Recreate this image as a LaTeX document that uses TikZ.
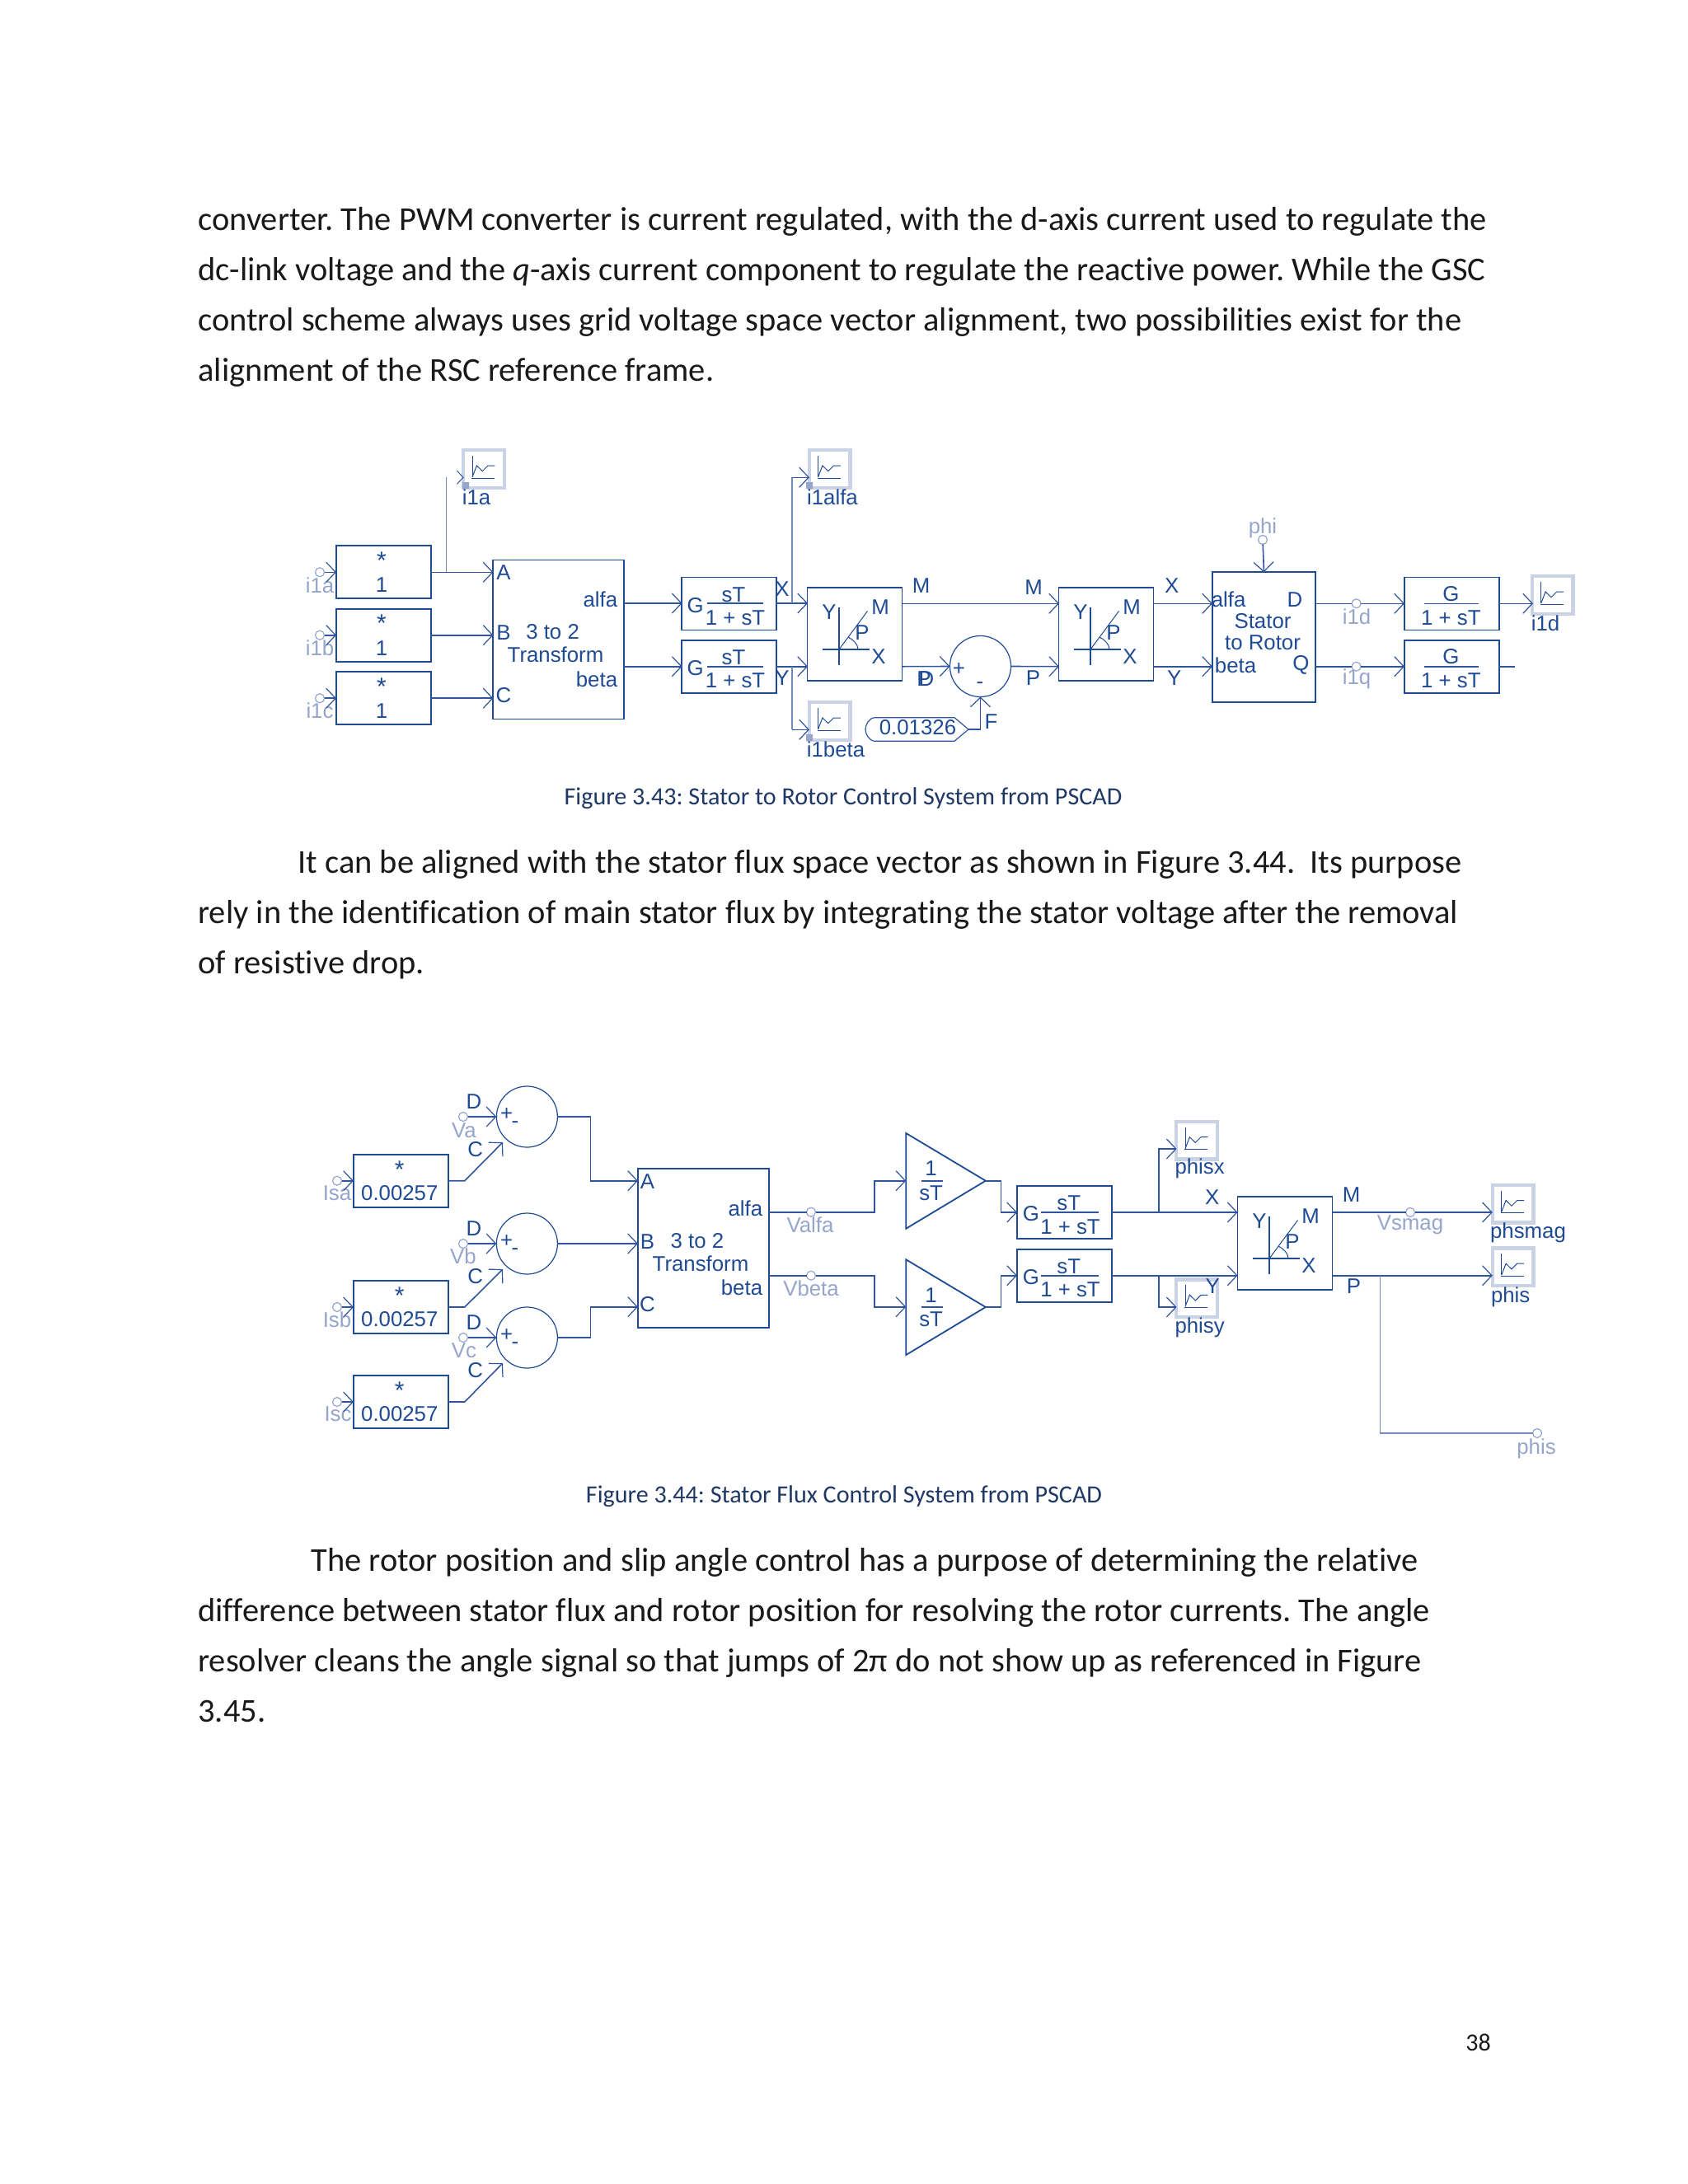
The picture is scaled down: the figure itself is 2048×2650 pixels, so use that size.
\documentclass[tikz,border=0pt]{standalone}
\usepackage{fontspec}
\setmainfont{Liberation Sans}
\newfontfamily\bodyfont[Ligatures=NoCommon]{Carlito}
\usepackage{tikz}
\usetikzlibrary{arrows.meta,positioning,calc}
\definecolor{pscadblue}{HTML}{1F4A94}
\definecolor{pscadline}{HTML}{2F559E}
\definecolor{pscadfaint}{HTML}{95A5CB}
\definecolor{pscadframe}{HTML}{CAD2E6}
\definecolor{captionblue}{HTML}{1F3864}

\tikzset{
  box/.style={draw=pscadblue, line width=0.9pt, inner sep=0pt, outer sep=0pt},
  gainbox/.style={box, minimum width=57.5pt, minimum height=32pt},
  polar/.style={box, minimum width=57.5pt, minimum height=56.5pt},
  xform/.style={box, minimum width=79.5pt, minimum height=96.5pt},
  statorbox/.style={box, minimum width=62.5pt, minimum height=78.7pt},
  sumnode/.style={circle, draw=pscadblue, line width=0.6pt, minimum size=37pt, inner sep=0pt, outer sep=0pt},
  inport/.style={circle, draw=pscadfaint, line width=0.6pt, minimum size=5.5pt, inner sep=0pt, outer sep=0pt},
  meter/.style={draw=pscadframe, line width=2.2pt, minimum width=24.8pt, minimum height=22.8pt, inner sep=0pt, outer sep=0pt},
  lbl/.style={text=pscadblue, font=\fontsize{12.9}{14}\selectfont, inner sep=0pt},
  starlbl/.style={lbl, font=\fontsize{15}{16}\selectfont, yshift=-1.5pt},
  faint/.style={lbl, text=pscadfaint},
  arrow/.style={-{Straight Barb[length=5.7pt,width=12pt,line width=0.6pt]}, pscadline, line width=0.8pt},
  wire/.style={pscadline, line width=0.8pt},
  thinwire/.style={pscadfaint!70!pscadblue, line width=0.6pt},
  trace/.style={pscadblue, line width=0.5pt},
  bodyline/.style={anchor=base west, inner sep=0pt, text=black!90, font=\frenchspacing\bodyfont\fontsize{20.23}{24}\selectfont},
  figcaption/.style={inner sep=0pt, text=captionblue, font=\frenchspacing\bodyfont\fontsize{15.05}{18}\selectfont},
}

% scope node with its little trace
\newcommand{\meterbox}[2]{
  \node[meter] (#1) at (#2) {};
  \begin{scope}[shift={(#1)}]
    \draw[trace] (-14,-16) -- (-14,10) (-15,11) -- (13,11);
    \draw[trace] (-14,10) -- (-8.6,-4) -- (-1.7,2.7) -- (5,-4) -- (13.4,-4);
  \end{scope}
}
% XY to polar block
\newcommand{\polarbox}[2]{
  \node[polar] (#1) at (#2) {};
  \begin{scope}[shift={(#1)}]
    \draw[trace, line width=0.8pt] (-19,-33) -- (-19,37) (-39,18.5) -- (18,18.5);
    \draw[trace] (-19,18.5) -- (15.5,-28);
    \draw[trace] (4,18.5) .. controls (4,12) and (-2,6.5) .. (-8,3.5);
    \node[lbl] (#1y) at (-31,-27) {Y};
    \node[lbl] (#1m) at (31,-33) {M};
    \node[lbl] (#1p) at (9,-1.5) {P};
    \node[lbl] (#1x) at (29,27) {X};
  \end{scope}
}

\begin{document}
\begin{tikzpicture}[x=0.5pt, y=-0.5pt]
  \useasboundingbox (0,0) rectangle (2048,2650);

  % Page text
  \node[bodyline] (parAa) at (240,279) {converter. The PWM converter is current regulated, with the d-axis current used to regulate the};
  \node[bodyline] (parAb) at (240,340) {dc-link voltage and the \textit{q}-axis current component to regulate the reactive power. While the GSC};
  \node[bodyline] (parAc) at (240,401) {control scheme always uses grid voltage space vector alignment, two possibilities exist for the};
  \node[bodyline] (parAd) at (240,462) {alignment of the RSC reference frame.};
  \node[figcaption] (capA) at (1023,969) {Figure 3.43: Stator to Rotor Control System from PSCAD};
  \node[bodyline] (parBa) at (361,1059) {It can be aligned with the stator flux space vector as shown in Figure 3.44.\ \ Its purpose};
  \node[bodyline] (parBb) at (240,1120) {rely in the identification of main stator flux by integrating the stator voltage after the removal};
  \node[bodyline] (parBc) at (240,1181) {of resistive drop.};
  \node[figcaption] (capB) at (1024,1816) {Figure 3.44: Stator Flux Control System from PSCAD};
  \node[bodyline] (parCa) at (377,1906) {The rotor position and slip angle control has a purpose of determining the relative};
  \node[bodyline] (parCb) at (240,1967) {difference between stator flux and rotor position for resolving the rotor currents. The angle};
  \node[bodyline] (parCc) at (240,2028) {resolver cleans the angle signal so that jumps of 2π do not show up as referenced in Figure};
  \node[bodyline] (parCd) at (240,2089) {3.45.};
  \node[bodyline, font=\bodyfont\fontsize{15}{18}\selectfont] (pageno) at (1778,2488) {38};

  % Figure 3.43, input gains
  \node[gainbox] (gaina) at (465.5,694.3) {};
  \node[gainbox] (gainb) at (465.5,770.7) {};
  \node[gainbox] (gainc) at (465.5,847.2) {};
  \node[starlbl] (staraa) at (463,677) {*};
  \node[starlbl] (starbb) at (463,753.5) {*};
  \node[starlbl] (starcc) at (463,830) {*};
  \node[lbl] (onea) at (463,710) {1};
  \node[lbl] (oneb) at (463,786.5) {1};
  \node[lbl] (onec) at (463,863) {1};
  \node[inport] (ina) at (388,694.3) {};
  \node[inport] (inb) at (388,770.7) {};
  \node[inport] (inc) at (388,847.2) {};
  \node[faint] (ina-l) at (388,710) {i1a};
  \node[faint] (inb-l) at (388,786) {i1b};
  \node[faint] (inc-l) at (388,862) {i1c};

  % Figure 3.43, 3 to 2 block
  \node[xform] (trfA) at (677.7,776) {};
  \coordinate (trfA-a) at (598.5,694.3);
  \coordinate (trfA-b) at (598.5,770.7);
  \coordinate (trfA-c) at (598.5,847.2);
  \coordinate (trfA-o1) at (757,732);
  \coordinate (trfA-o2) at (757,808.7);
  \node[lbl] (trfA-tA) at (611,695) {A};
  \node[lbl] (trfA-tB) at (611,768) {B};
  \node[lbl] (trfA-tC) at (611,844) {C};
  \node[lbl] (trfA-t1) at (670.6,767) {3 to 2};
  \node[lbl] (trfA-t2) at (674,794) {Transform};
  \node[lbl, anchor=east] (trfA-t3) at (749.5,727.7) {alfa};
  \node[lbl, anchor=east] (trfA-t4) at (749.5,824) {beta};

  % Figure 3.43, filters
  \node[gainbox] (lagx) at (884.8,732.5) {};
  \node[gainbox] (lagy) at (884.8,808.9) {};
  \coordinate (lagx-in) at (827.6,732);
  \coordinate (lagy-in) at (827.6,808.7);
  \coordinate (lagx-out) at (942,732);
  \coordinate (lagy-out) at (942,808.7);
  \node[lbl] (lagx-g) at (843.7,735) {G};
  \node[lbl] (lagy-g) at (843.7,811) {G};
  \node[lbl] (lagx-n) at (890,721.7) {sT};
  \node[lbl] (lagy-n) at (890,797.7) {sT};
  \node[lbl] (lagx-d) at (892,749.3) {1 + sT};
  \node[lbl] (lagy-d) at (892,825.7) {1 + sT};
  \draw[wire] (857.5,732) -- (926,732) (857.5,808.7) -- (926,808.7);
  \node[lbl] (lagx-l) at (949,714.3) {X};
  \node[lbl] (lagy-l) at (949,822.7) {Y};

  % Figure 3.43, polar blocks and summer
  \polarbox{polA}{1037,769.5}
  \polarbox{polB}{1342,769.5}
  \coordinate (polA-x) at (980,732);
  \coordinate (polA-y) at (980,808.7);
  \coordinate (polA-m) at (1094.5,732.3);
  \coordinate (polA-p) at (1094.5,808.7);
  \coordinate (polB-a) at (1285,732.3);
  \coordinate (polB-b) at (1285,808.7);
  \coordinate (polB-m) at (1399.4,732.3);
  \coordinate (polB-p) at (1399.4,808.7);
  \node[sumnode] (sumA) at (1189.5,808.5) {};
  \node[lbl] (sumA-pl) at (1163.4,811.7) {+};
  \node[lbl] (sumA-mi) at (1189,832) {-};
  \node[lbl] (polA-lm) at (1117.5,711) {M};
  \node[lbl] (polB-lm) at (1254,713) {M};
  \node[lbl] (polA-lp) at (1121,824) {P};
  \node[lbl] (sumA-ld) at (1124,824) {D};
  \node[lbl] (polB-lp) at (1253.5,822.7) {P};
  \node[lbl] (polB-lx) at (1421.7,711) {X};
  \node[lbl] (polB-ly) at (1424.6,822.7) {Y};
  \node[lbl] (sumA-lf) at (1202.5,875.7) {F};

  % Constant
  \draw[pscadline, line width=0.6pt] (1062,870.7) -- (1158,870.7) -- (1175,885) -- (1158,899.3) -- (1062,899.3) .. controls (1054,899.3) and (1050,890) .. (1050,885) .. controls (1050,880) and (1054,870.7) .. (1062,870.7) -- cycle;
  \node[lbl] (const) at (1113.5,883) {0.01326};
  \coordinate (const-o) at (1175,885);
  \coordinate (const-k) at (1189.5,885);

  % Stator to rotor
  \node[statorbox] (srot) at (1533.5,773) {};
  \coordinate (srot-a) at (1471,732.3);
  \coordinate (srot-b) at (1471,808.7);
  \coordinate (srot-d) at (1596,732.3);
  \coordinate (srot-q) at (1596,808.7);
  \node[lbl] (srot-ta) at (1490.6,727.7) {alfa};
  \node[lbl] (srot-td) at (1571,727.7) {D};
  \node[lbl] (srot-t1) at (1532,754) {Stator};
  \node[lbl] (srot-t2) at (1532,780) {to Rotor};
  \node[lbl] (srot-tb) at (1499,807) {beta};
  \node[lbl] (srot-tq) at (1578.5,807) {Q};
  \node[inport] (phi) at (1532,655) {};
  \node[faint] (phi-l) at (1532,641) {phi};
  \node[inport] (iod) at (1645.6,732.3) {};
  \node[inport] (ioq) at (1645.6,808.7) {};
  \node[faint] (iod-l) at (1646,748) {i1d};
  \node[faint] (ioq-l) at (1646,824) {i1q};

  % Output lags
  \node[gainbox] (lagd) at (1761.5,732.5) {};
  \node[gainbox] (lagq) at (1761.5,808.9) {};
  \coordinate (lagd-in) at (1704,732.3);
  \coordinate (lagq-in) at (1704,808.7);
  \coordinate (lagd-out) at (1819,732.3);
  \coordinate (lagq-out) at (1819,808.7);
  \coordinate (lagq-end) at (1838,808.7);
  \node[lbl] (lagd-g) at (1760.4,720.7) {G};
  \node[lbl] (lagq-g) at (1760.4,796.7) {G};
  \node[lbl] (lagd-d) at (1760.4,749.3) {1 + sT};
  \node[lbl] (lagq-d) at (1760.4,825.7) {1 + sT};
  \draw[wire] (1727.7,732.3) -- (1793.7,732.3) (1727.7,808.7) -- (1793.7,808.7);

  % Figure 3.43, scopes
  \meterbox{mia}{587,569}
  \meterbox{mialfa}{1006.5,569}
  \meterbox{mibeta}{1006.5,875}
  \meterbox{mid}{1883.7,722}
  \node[lbl] (mia-l) at (578,603) {i1a};
  \node[lbl] (mialfa-l) at (1010,603) {i1alfa};
  \node[lbl] (mibeta-l) at (1014,909) {i1beta};
  \node[lbl] (mid-l) at (1875,756) {i1d};
  \fill[pscadfaint] (561,585) rectangle (569,593) (978,585) rectangle (986,593) (978,891) rectangle (986,899);
  \coordinate (mia-in) at (562,579.3);
  \coordinate (mialfa-in) at (982,579.3);
  \coordinate (mibeta-in) at (982,885.3);
  \coordinate (mid-in) at (1860,732.3);
  \coordinate (tapa) at (541.5,694.3);
  \coordinate (tapa-top) at (541.5,579.3);
  \coordinate (tapx) at (961,732);
  \coordinate (tapx-top) at (961,579.3);
  \coordinate (tapy) at (961,808.7);
  \coordinate (tapy-bot) at (961,885.3);

  % Figure 3.43, connectors
  \draw[arrow] (ina) -- (gaina.west);
  \draw[arrow] (inb) -- (gainb.west);
  \draw[arrow] (inc) -- (gainc.west);
  \draw[arrow] (gaina.east) -- (trfA-a);
  \draw[arrow] (gainb.east) -- (trfA-b);
  \draw[arrow] (gainc.east) -- (trfA-c);
  \draw[thinwire] (tapa) -- (tapa-top);
  \draw[wire, line width=0.5pt] ([shift={(-7.5,-8)}]mia-in) -- (mia-in) -- ([shift={(-7.5,8)}]mia-in);
  \draw[arrow] (trfA-o1) -- (lagx-in);
  \draw[arrow] (trfA-o2) -- (lagy-in);
  \draw[arrow] (lagx-out) -- (polA-x);
  \draw[arrow] (lagy-out) -- (polA-y);
  \draw[thinwire, line width=0.9pt] (tapx) -- (tapx-top);
  \draw[arrow] (tapx-top) -- (mialfa-in);
  \draw[thinwire, line width=0.9pt] (tapy) -- (tapy-bot);
  \draw[arrow] (tapy-bot) -- (mibeta-in);
  \draw[arrow] (polA-m) -- (polB-a);
  \draw[arrow] (polA-p) -- (sumA.west);
  \draw[arrow] (sumA.east) -- (polB-b);
  \draw[arrow] (const-o) -- (const-k) -- (sumA.south);
  \draw[arrow] (polB-m) -- (srot-a);
  \draw[arrow] (polB-p) -- (srot-b);
  \draw[arrow] (phi) -- (srot.north);
  \draw[wire] (srot-d) -- (iod);
  \draw[wire] (srot-q) -- (ioq);
  \draw[arrow] (iod) -- (lagd-in);
  \draw[arrow] (ioq) -- (lagq-in);
  \draw[arrow] (lagd-out) -- (mid-in);
  \draw[wire] (lagq-out) -- (lagq-end);

  % Figure 3.44, current gains
  \node[gainbox] (rsa) at (486.4,1432.7) {};
  \node[gainbox] (rsb) at (486.4,1586) {};
  \node[gainbox] (rsc) at (486.4,1701) {};
  \node[starlbl] (rsa-s) at (484.8,1415.7) {*};
  \node[starlbl] (rsb-s) at (484.8,1569.3) {*};
  \node[starlbl] (rsc-s) at (484.8,1684.3) {*};
  \node[lbl] (rsa-v) at (484.8,1447.7) {0.00257};
  \node[lbl] (rsb-v) at (484.8,1601) {0.00257};
  \node[lbl] (rsc-v) at (484.8,1716) {0.00257};
  \node[inport] (isa) at (409,1432.7) {};
  \node[inport] (isb) at (409,1586) {};
  \node[inport] (isc) at (409,1701) {};
  \node[faint] (isa-l) at (409,1447.7) {Isa};
  \node[faint] (isb-l) at (409,1601) {Isb};
  \node[faint] (isc-l) at (410,1716) {Isc};

  % Figure 3.44, summers
  \node[sumnode] (suma) at (639.4,1355) {};
  \node[sumnode] (sumb) at (639.4,1509) {};
  \node[sumnode] (sumc) at (639.4,1623) {};
  \foreach \nm/\yy in {a/1355, b/1509, c/1623}{
    \node[lbl] (sum\nm-pl) at (614.7,\yy-3) {+};
    \node[lbl] (sum\nm-mi) at (625,\yy+10) {-};
    \node[lbl] (sum\nm-ld) at (575,\yy-18) {D};
    \node[lbl] (sum\nm-lc) at (576.6,\yy+40) {C};
    \node[inport] (v\nm) at (562,\yy) {};
    \coordinate (sum\nm-c) at (610,\yy+31);
  }
  \node[faint] (va-l) at (563,1371.7) {Va};
  \node[faint] (vb-l) at (562,1524) {Vb};
  \node[faint] (vc-l) at (563,1639) {Vc};
  \coordinate (kna) at (563.8,1432.7);
  \coordinate (knb) at (563.8,1586);
  \coordinate (knc) at (563.8,1701);
  \coordinate (bna) at (716.6,1355);
  \coordinate (bnc) at (716.6,1623);
  \coordinate (bma) at (716.6,1432.7);
  \coordinate (bmc) at (716.6,1585.7);

  % Figure 3.44, 3 to 2 block
  \node[xform] (trfB) at (853.7,1514.8) {};
  \coordinate (trfB-a) at (774,1432.7);
  \coordinate (trfB-b) at (774,1509);
  \coordinate (trfB-c) at (774,1585.7);
  \coordinate (trfB-o1) at (933.4,1470.7);
  \coordinate (trfB-o2) at (933.4,1547.7);
  \node[lbl] (trfB-tA) at (785.5,1434) {A};
  \node[lbl] (trfB-tB) at (785.5,1506.7) {B};
  \node[lbl] (trfB-tC) at (785.5,1583) {C};
  \node[lbl] (trfB-t1) at (846,1505.7) {3 to 2};
  \node[lbl] (trfB-t2) at (850,1533) {Transform};
  \node[lbl, anchor=east] (trfB-t3) at (925.5,1466) {alfa};
  \node[lbl, anchor=east] (trfB-t4) at (925.5,1562.7) {beta};
  \node[inport] (valfa) at (984,1470.7) {};
  \node[inport] (vbeta) at (984,1547.7) {};
  \node[faint] (valfa-l) at (983,1486) {Valfa};
  \node[faint] (vbeta-l) at (984,1563.3) {Vbeta};
  \coordinate (bnx) at (1061,1470.7);
  \coordinate (bny) at (1061,1547.7);
  \coordinate (bmx) at (1061,1432.7);
  \coordinate (bmy) at (1061,1585.7);

  % Integrators
  \draw[box] (1099.3,1375) -- (1195.8,1432.7) -- (1099.3,1490.7) -- cycle;
  \draw[box] (1099.3,1528.3) -- (1195.8,1586) -- (1099.3,1644) -- cycle;
  \coordinate (inta-in) at (1099.3,1432.7);
  \coordinate (intb-in) at (1099.3,1585.7);
  \coordinate (inta-o) at (1195.8,1432.7);
  \coordinate (intb-o) at (1195.8,1586);
  \coordinate (inta-k) at (1214.3,1432.7);
  \coordinate (intb-k) at (1214.3,1586);
  \coordinate (inta-j) at (1214.3,1471);
  \coordinate (intb-j) at (1214.3,1547.7);
  \node[lbl] (inta-n) at (1129.6,1418) {1};
  \node[lbl] (intb-n) at (1129.6,1571.7) {1};
  \node[lbl] (inta-d) at (1129.6,1447.7) {sT};
  \node[lbl] (intb-d) at (1129.6,1601) {sT};
  \draw[wire] (1117.8,1432.7) -- (1144,1432.7) (1117.8,1586) -- (1144,1586);

  % Figure 3.44, filters
  \node[gainbox] (lagp) at (1291.5,1471) {};
  \node[gainbox] (lagr) at (1291.5,1547.7) {};
  \coordinate (lagp-in) at (1234,1471);
  \coordinate (lagr-in) at (1234,1547.7);
  \node[lbl] (lagp-g) at (1250.8,1473) {G};
  \node[lbl] (lagr-g) at (1250.8,1550) {G};
  \node[lbl] (lagp-n) at (1296.8,1460) {sT};
  \node[lbl] (lagr-n) at (1296.8,1536.7) {sT};
  \node[lbl] (lagp-d) at (1298.5,1488.3) {1 + sT};
  \node[lbl] (lagr-d) at (1298.5,1564.3) {1 + sT};
  \draw[wire] (1263,1471) -- (1333.3,1471) (1263,1547.7) -- (1333.3,1547.7);

  % Figure 3.44, polar block and scopes
  \polarbox{polC}{1559,1508.5}
  \coordinate (polC-a) at (1501.6,1471);
  \coordinate (polC-b) at (1501.6,1547.7);
  \coordinate (polC-m) at (1616.7,1471);
  \coordinate (polC-p) at (1616.7,1547.7);
  \node[lbl] (polC-lx) at (1470.8,1452.7) {X};
  \node[lbl] (polC-lm) at (1639.7,1449.3) {M};
  \node[lbl] (polC-lp) at (1642.5,1560.7) {P};
  \coordinate (tapp) at (1406,1471);
  \coordinate (tapr) at (1406,1547.7);
  \coordinate (tapp-t) at (1406,1394);
  \coordinate (tapr-b) at (1406,1586);
  \coordinate (mphx-in) at (1427.6,1394);
  \coordinate (mphy-in) at (1427.6,1586);
  \coordinate (mmag-in) at (1810.8,1471);
  \coordinate (mphs-in) at (1810.8,1547.7);
  \coordinate (tapq) at (1674.5,1547.7);
  \coordinate (tapq-b) at (1674.5,1739);
  \meterbox{mphx}{1452,1383.7}
  \meterbox{mphy}{1452,1575.3}
  \meterbox{mmag}{1835.7,1460.5}
  \meterbox{mphs}{1835.7,1537.2}
  \node[lbl] (polC-ly) at (1471.3,1560.7) {Y};
  \node[lbl] (mphx-l) at (1455.6,1418) {phisx};
  \node[lbl] (mphy-l) at (1455.6,1611) {phisy};
  \node[lbl] (mmag-l) at (1854,1496) {phsmag};
  \node[lbl] (mphs-l) at (1832.7,1573.5) {phis};
  \node[inport] (vsmag) at (1711,1471) {};
  \node[faint] (vsmag-l) at (1711,1486.7) {Vsmag};
  \node[inport] (phisp) at (1865,1739) {};
  \node[faint] (phisp-l) at (1864,1757.5) {phis};

  % Figure 3.44, connectors
  \draw[arrow] (isa) -- (rsa.west);
  \draw[arrow] (isb) -- (rsb.west);
  \draw[arrow] (isc) -- (rsc.west);
  \draw[arrow] (va) -- (suma.west);
  \draw[arrow] (vb) -- (sumb.west);
  \draw[arrow] (vc) -- (sumc.west);
  \draw[arrow] (rsa.east) -- (kna) -- (suma-c);
  \draw[arrow] (rsb.east) -- (knb) -- (sumb-c);
  \draw[arrow] (rsc.east) -- (knc) -- (sumc-c);
  \draw[arrow] (suma.east) -- (bna) -- (bma) -- (trfB-a);
  \draw[arrow] (sumb.east) -- (trfB-b);
  \draw[arrow] (sumc.east) -- (bnc) -- (bmc) -- (trfB-c);
  \draw[wire] (trfB-o1) -- (valfa);
  \draw[wire] (trfB-o2) -- (vbeta);
  \draw[arrow] (valfa) -- (bnx) -- (bmx) -- (inta-in);
  \draw[arrow] (vbeta) -- (bny) -- (bmy) -- (intb-in);
  \draw[arrow] (inta-o) -- (inta-k) -- (inta-j) -- (lagp-in);
  \draw[arrow] (intb-o) -- (intb-k) -- (intb-j) -- (lagr-in);
  \draw[arrow] (lagp.east) -- (polC-a);
  \draw[arrow] (lagr.east) -- (polC-b);
  \draw[arrow, line width=0.6pt] (tapp) -- (tapp-t) -- (mphx-in);
  \draw[arrow, line width=0.6pt] (tapr) -- (tapr-b) -- (mphy-in);
  \draw[wire] (polC-m) -- (vsmag);
  \draw[arrow] (vsmag) -- (mmag-in);
  \draw[arrow] (polC-p) -- (mphs-in);
  \draw[thinwire] (tapq) -- (tapq-b) -- (phisp);
\end{tikzpicture}
\end{document}
